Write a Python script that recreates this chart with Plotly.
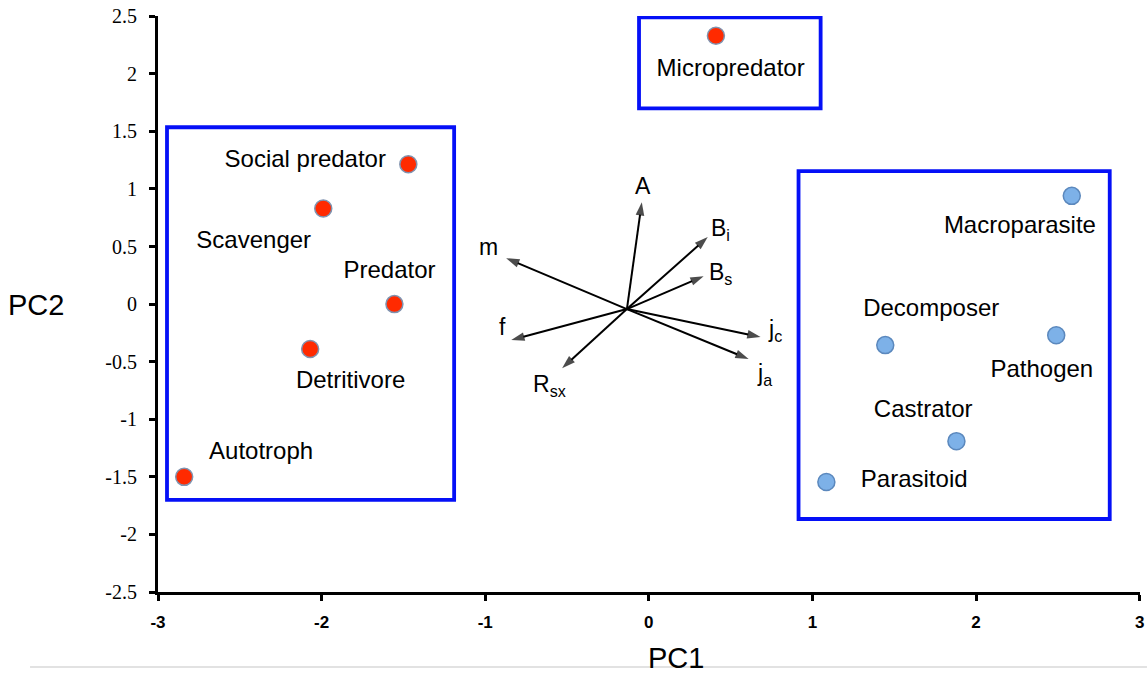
import plotly.graph_objects as go

# ---- data ----
free_names = ["Micropredator", "Social predator", "Scavenger", "Predator", "Detritivore", "Autotroph"]
free_pc1 = [0.41, -1.47, -1.99, -1.555, -2.07, -2.84]
free_pc2 = [2.33, 1.215, 0.83, 0.0, -0.39, -1.50]
free_lab_x = [0.50, -2.10, -2.415, -1.585, -1.823, -2.37]
free_lab_y = [2.03, 1.24, 0.538, 0.278, -0.677, -1.293]

para_names = ["Macroparasite", "Decomposer", "Pathogen", "Castrator", "Parasitoid"]
para_pc1 = [2.585, 1.445, 2.49, 1.88, 1.085]
para_pc2 = [0.94, -0.356, -0.27, -1.19, -1.545]
para_lab_x = [2.268, 1.726, 2.402, 1.677, 1.622]
para_lab_y = [0.668, -0.052, -0.582, -0.929, -1.536]

vec_names = ["A", "B<sub>i</sub>", "B<sub>s</sub>", "m", "f", "R<sub>sx</sub>", "j<sub>c</sub>", "j<sub>a</sub>"]
vec_origin = (-0.134, -0.043)
vec_x = [-0.043, 0.360, 0.335, -0.872, -0.841, -0.530, 0.683, 0.610]
vec_y = [0.885, 0.582, 0.243, 0.399, -0.3125, -0.556, -0.286, -0.477]
vec_lab_x = [-0.037, 0.44, 0.44, -0.98, -0.896, -0.61, 0.77, 0.707]
vec_lab_y = [1.024, 0.65, 0.27, 0.495, -0.20, -0.71, -0.23, -0.61]

# group boxes: [x0, x1, y0, y1]
boxes = [
    [-2.945, -1.19, -1.70, 1.536],
    [-0.06, 1.05, 1.70, 2.49],
    [0.915, 2.817, -1.866, 1.155],
]

x_ticks = [-3, -2, -1, 0, 1, 2, 3]
y_ticks = [-2.5, -2, -1.5, -1, -0.5, 0, 0.5, 1, 1.5, 2, 2.5]

SANS = "Liberation Sans, Arial, Helvetica, sans-serif"
LABEL_FONT = dict(family=SANS, size=24, color="black")
VEC_FONT = dict(family=SANS, size=23, color="black")

fig = go.Figure()

# loading vectors (line + arrow head marker)
for vx, vy in zip(vec_x, vec_y):
    fig.add_trace(go.Scatter(
        x=[vec_origin[0], vx], y=[vec_origin[1], vy], mode="lines+markers",
        line=dict(color="black", width=2),
        marker=dict(symbol=["circle", "arrow"], size=[0, 14], angleref="previous",
                    color="black", line=dict(width=0)),
        showlegend=False, hoverinfo="skip"))

fig.add_trace(go.Scatter(
    x=free_pc1, y=free_pc2, mode="markers",
    marker=dict(size=17, color="#ff2a00", line=dict(color="#7f93b0", width=1.5)),
    showlegend=False, hoverinfo="skip"))
fig.add_trace(go.Scatter(
    x=para_pc1, y=para_pc2, mode="markers",
    marker=dict(size=17, color="#7db1e8", line=dict(color="#5b88bd", width=1.5)),
    showlegend=False, hoverinfo="skip"))

fig.add_trace(go.Scatter(
    x=free_lab_x + para_lab_x, y=free_lab_y + para_lab_y, mode="text",
    text=free_names + para_names, textfont=LABEL_FONT,
    textposition="middle center", showlegend=False, hoverinfo="skip"))

for b in boxes:
    fig.add_shape(type="rect", xref="x", yref="y", x0=b[0], x1=b[1], y0=b[2], y1=b[3],
                  line=dict(color="#0510f7", width=3.8), fillcolor="rgba(0,0,0,0)")

annotations = []
for name, lx, ly in zip(vec_names, vec_lab_x, vec_lab_y):
    annotations.append(dict(x=lx, y=ly, xref="x", yref="y", text=name, showarrow=False,
                            font=VEC_FONT))
# axis titles (PC2 is horizontal in the reference)
annotations.append(dict(x=-0.1242, y=0.498, xref="paper", yref="paper", text="PC2",
                        showarrow=False, xanchor="center", yanchor="middle",
                        font=dict(family=SANS, size=29, color="black")))
annotations.append(dict(x=0.5275, y=-0.1146, xref="paper", yref="paper", text="PC1",
                        showarrow=False, xanchor="center", yanchor="middle",
                        font=dict(family=SANS, size=29, color="black")))
fig.update_layout(annotations=annotations)

# light separator line under the chart
fig.add_shape(type="line", xref="paper", yref="paper", x0=-0.1303, x1=1.0071, y0=-0.130, y1=-0.130,
              line=dict(color="#d9d9d9", width=1.5))

fig.update_xaxes(range=[-3, 3.002], tickvals=x_ticks, ticktext=[str(t) for t in x_ticks],
                 showgrid=False, zeroline=False, showline=True, linecolor="black", linewidth=3,
                 ticks="outside", ticklen=6, tickwidth=3, tickcolor="black",
                 ticklabelstandoff=7, ticklabeloverflow="allow",
                 tickfont=dict(family=SANS, size=17, color="black", weight="bold"))
fig.update_yaxes(range=[-2.5, 2.502], tickvals=y_ticks, ticktext=[f"{t:g}" for t in y_ticks],
                 showgrid=False, zeroline=False, showline=True, linecolor="black", linewidth=3,
                 ticks="outside", ticklen=6, tickwidth=3, tickcolor="black",
                 ticklabelstandoff=8, ticklabeloverflow="allow",
                 tickfont=dict(family="Liberation Serif, Times New Roman, serif", size=20, color="black"))

fig.update_layout(width=1147, height=675, margin=dict(l=158, r=7, t=16, b=83, autoexpand=False),
                  plot_bgcolor="white", paper_bgcolor="white", showlegend=False)

# remove the default page margin so the figure fills the window exactly
fig.write_html("out.html", config={"displayModeBar": False},
               post_script="document.body.style.margin='0';document.body.style.overflow='hidden';")
